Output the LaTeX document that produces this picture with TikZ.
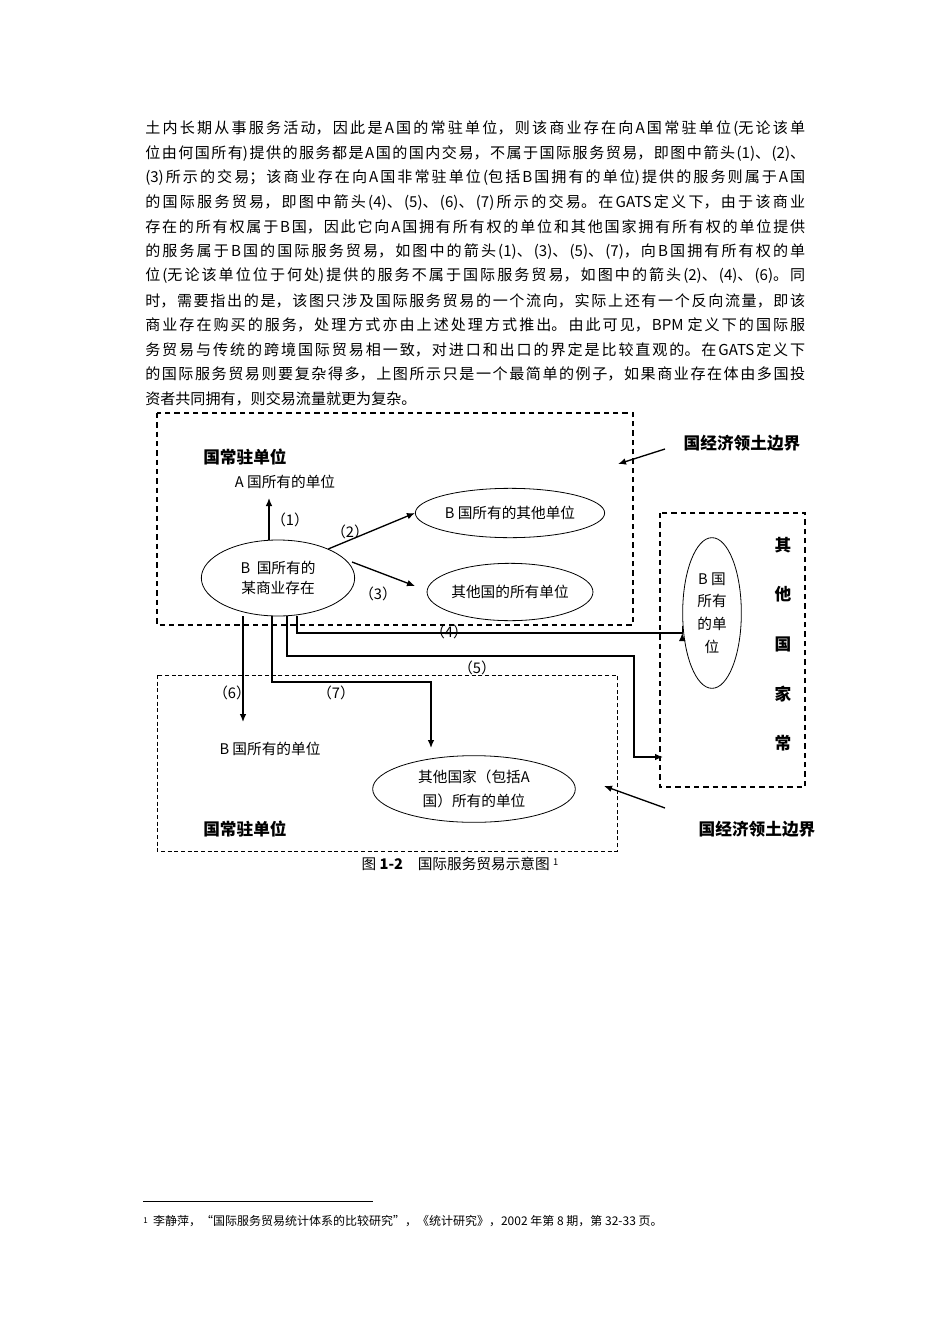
\documentclass[tikz,border=0pt]{standalone}
\usepackage{fontspec}
\setmainfont{Noto Sans CJK SC}
\usetikzlibrary{shapes.geometric,arrows.meta}
\XeTeXlinebreaklocale "zh"
\XeTeXlinebreakskip=0pt plus 4pt
\begin{document}
\begin{tikzpicture}[x=0.75pt,y=-0.75pt,
  pline/.style={anchor=west,inner sep=0pt,text width=495pt,align=justify,font=\fontsize{11.3pt}{13pt}\selectfont},
  lbl/.style={inner sep=0pt,font=\fontsize{11pt}{13pt}\selectfont},
  bold/.style={inner sep=0pt,font=\fontsize{12.5pt}{14pt}\selectfont\bfseries},
  ell/.style={draw,ellipse,inner sep=0pt,line width=0.6pt,align=center,font=\fontsize{11pt}{15pt}\selectfont},
  arr/.style={-{Latex[length=6pt,width=5pt]},line width=1pt},
  thickbox/.style={draw,line width=1.3pt,dash pattern=on 4pt off 3pt},
  thinbox/.style={draw,line width=0.6pt,dash pattern=on 3pt off 2pt}]
\useasboundingbox (0,0) rectangle (950,1344);
\fill[white] (0,0) rectangle (950,1344);
\newcommand\pl[3]{\node[pline] (#1) at (145,#2) {#3\par};}
\newcommand\pj[3]{\node[pline] (#1) at (145,#2) {\parfillskip=0pt #3\par};}
\pj{l1}{129}{土内长期从事服务活动，因此是A国的常驻单位，则该商业存在向A国常驻单位(无论该单}
\pj{l2}{154}{位由何国所有)提供的服务都是A国的国内交易，不属于国际服务贸易，即图中箭头(1)、(2)、}
\pj{l3}{178}{(3)所示的交易；该商业存在向A国非常驻单位(包括B国拥有的单位)提供的服务则属于A国}
\pj{l4}{203}{的国际服务贸易，即图中箭头(4)、(5)、(6)、(7)所示的交易。在GATS定义下，由于该商业}
\pj{l5}{227}{存在的所有权属于B国，因此它向A国拥有所有权的单位和其他国家拥有所有权的单位提供}
\pj{l6}{252}{的服务属于B国的国际服务贸易，如图中的箭头(1)、(3)、(5)、(7)，向B国拥有所有权的单}
\pj{l7}{276}{位(无论该单位位于何处)提供的服务不属于国际服务贸易，如图中的箭头(2)、(4)、(6)。同}
\pj{l8}{301}{时，需要指出的是，该图只涉及国际服务贸易的一个流向，实际上还有一个反向流量，即该}
\pj{l9}{325}{商业存在购买的服务，处理方式亦由上述处理方式推出。由此可见，BPM 定义下的国际服}
\pj{l10}{350}{务贸易与传统的跨境国际贸易相一致，对进口和出口的界定是比较直观的。在GATS定义下}
\pj{l11}{374}{的国际服务贸易则要复杂得多，上图所示只是一个最简单的例子，如果商业存在体由多国投}
\pl{l12}{399}{资者共同拥有，则交易流量就更为复杂。}
% boxes
\draw[thickbox] (157,413) rectangle (633,625);
\draw[thickbox] (660,513) rectangle (805,787);
\draw[thinbox] (157,675) rectangle (617,851);
% texts
\node[bold,anchor=west] (t1) at (203,457) {国常驻单位};
\node[bold,anchor=west] (t2) at (203,829) {国常驻单位};
\node[lbl] (aown) at (285,482) {A 国所有的单位};
\node[lbl] (bown) at (270,749) {B 国所有的单位};
\node[ell,minimum width=115pt,minimum height=57pt] (e1) at (278,578) {B\ \ 国所有的\\某商业存在};
\node[ell,minimum width=142pt,minimum height=37pt] (e2) at (510,513) {B 国所有的其他单位};
\node[ell,minimum width=120pt,minimum height=43pt] (e3) at (510,592) {其他国的所有单位};
\node[ell,minimum width=44pt,minimum height=113pt,font=\fontsize{11pt}{17pt}\selectfont] (e4) at (712,613) {B 国\\所有\\的单\\位};
\node[ell,minimum width=152pt,minimum height=50pt,font=\fontsize{11pt}{18pt}\selectfont] (e5) at (474,789) {其他国家（包括A\\国）所有的单位};
\foreach \c/\yy [count=\i] in {其/545,他/594,国/644,家/694,常/743}
  \node[bold] (v\i) at (783,\yy) {\c};
\node[bold] (b1) at (742,443) {国经济领土边界};
\node[bold] (b2) at (757,829) {国经济领土边界};
% labels
\node[lbl] (n1) at (290,520) {（1）};
\node[lbl] (n2) at (350,532) {（2）};
\node[lbl] (n3) at (378,594) {（3）};
\node[lbl] (n4) at (449,632) {（4）};
\node[lbl] (n5) at (477,668) {（5）};
\node[lbl] (n6) at (232,693) {（6）};
\node[lbl] (n7) at (336,693) {（7）};
% coordinates
\coordinate (p1) at (269,498);
\coordinate (p6) at (243,722);
\coordinate (p7) at (431,748);
\coordinate (p5) at (663,757);
\coordinate (q1) at (665,449); \coordinate (q2) at (618,464);
\coordinate (r1) at (665,808); \coordinate (r2) at (604,786);
% arrows
\draw[arr] (269,540) -- (p1);
\draw[arr] (e1.30) -- (e2.west);
\draw[arr] (352,562) -- (415,586);
\draw[arr] (243,616) -- (p6);
\draw[arr] (272,616) |- (431,682) -- (p7);
\draw[arr] (287,616) |- (634,656) |- (p5);
\draw[arr] (297,616) |- (e4.west |- 0,633) -- (e4.west |- 0,633);
\draw[arr] (q1) -- (q2);
\draw[arr] (r1) -- (r2);
% caption
\node[lbl] (cap) at (460,864) {图 \textbf{1-2}\quad 国际服务贸易示意图 \raisebox{0.5ex}{\fontsize{7pt}{8pt}\selectfont 1}};
% footnote
\coordinate (f1) at (143,1201); \coordinate (f2) at (373,1201);
\draw[line width=0.6pt] (f1) -- (f2);
\node[anchor=west,inner sep=0pt,font=\fontsize{9pt}{10pt}\selectfont] (fn) at (143,1221) {\raisebox{0.3ex}{\fontsize{6pt}{7pt}\selectfont 1}\ \ 李静萍，“国际服务贸易统计体系的比较研究”，《统计研究》，2002 年第 8 期，第 32-33 页。};
\end{tikzpicture}
\end{document}
